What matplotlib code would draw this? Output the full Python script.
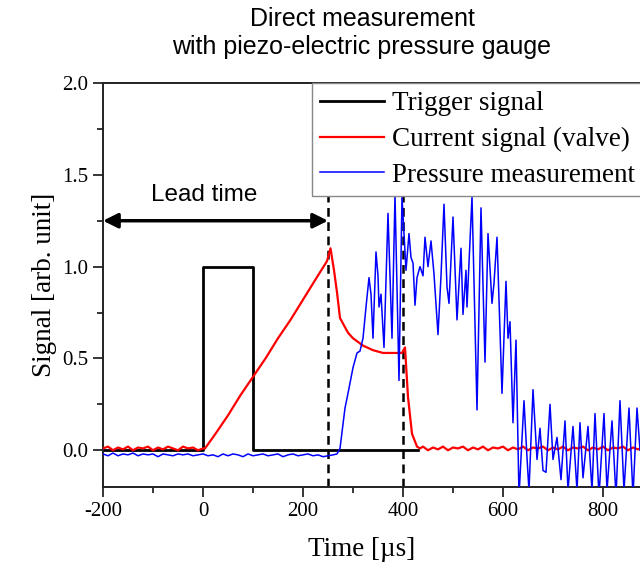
import matplotlib
matplotlib.use("Agg")
import matplotlib.pyplot as plt

# === DATA ===
trig_t = [-200, 0, 0, 100, 100, 430]
trig_v = [0, 0, 1, 1, 0, 0]

cur_t = [-200, -190, -180, -170, -160, -150, -140, -130, -120, -110, -100,
         -90, -80, -70, -60, -50, -40, -30, -20, -10, 0,
         4, 25, 50, 75, 100, 125, 150, 175, 200, 225, 248, 255, 262, 268,
         274, 280, 290, 300, 320, 340, 360, 380, 398, 404, 410, 418, 428, 434,
         440, 450, 460, 470, 480, 490, 500, 510, 520, 530, 540, 550, 560, 570,
         580, 590, 600, 610, 620, 630, 640, 650, 660, 670, 680, 690, 700, 710,
         720, 730, 740, 750, 760, 770, 780, 790, 800, 810, 820, 830, 840, 850,
         860, 870, 874]
cur_v = [0.01, 0.02, 0.0, 0.015, 0.005, 0.02, 0.0, 0.015, 0.01, 0.02, 0.0,
         0.015, 0.005, 0.02, 0.01, 0.0, 0.02, 0.01, 0.015, 0.0, 0.01,
         0.01, 0.09, 0.19, 0.30, 0.40, 0.50, 0.61, 0.71, 0.82, 0.93, 1.03, 1.10, 0.98, 0.86,
         0.72, 0.69, 0.64, 0.61, 0.57, 0.545, 0.53, 0.53, 0.53, 0.56, 0.29, 0.09, 0.02, 0.01,
         0.02, 0.0, 0.015, 0.005, 0.02, 0.0, 0.015, 0.01, 0.02, 0.0, 0.015, 0.005, 0.02, 0.0,
         0.015, 0.01, 0.02, 0.0, 0.015, 0.005, 0.02, 0.0, 0.015, 0.01, 0.02, 0.0, 0.015, 0.005,
         0.02, 0.0, 0.015, 0.01, 0.02, 0.0, 0.015, 0.005, 0.02, 0.0, 0.015, 0.01, 0.02, 0.0,
         0.015, 0.005, 0.01]

pres_t = [-200, -190, -180, -170, -160, -150, -140, -130, -120, -110, -100,
          -90, -80, -70, -60, -50, -40, -30, -20, -10, 0, 10, 20, 30, 40, 50,
          60, 70, 80, 90, 100, 110, 120, 130, 140, 150, 160, 170, 180, 190, 200,
          210, 220, 230, 240, 250, 260, 268,
          274, 284, 290, 300, 304, 308, 314, 320, 326, 332, 336, 340, 346, 350,
          352, 356, 362, 370, 378, 384, 392, 398, 406, 412, 416, 420, 424, 428,
          434, 440, 444, 450, 456, 462, 470, 476, 482, 488, 492, 500, 508, 516,
          520, 526, 528, 538, 548, 556, 564, 570, 578, 582, 588, 598, 606, 610,
          614, 620, 626, 632, 642, 648, 652, 660, 668, 674, 680, 686, 694, 700,
          708, 716, 724, 730, 740, 748, 754, 760, 770, 778, 784, 792, 802, 808,
          818, 826, 834, 842, 852, 860, 868, 874]
pres_v = [-0.02, -0.03, -0.015, -0.03, -0.02, -0.025, -0.015, -0.03, -0.02, -0.025, -0.02,
          -0.035, -0.02, -0.025, -0.03, -0.02, -0.025, -0.02, -0.03, -0.025, -0.02, -0.03,
          -0.025, -0.035, -0.02, -0.03, -0.02, -0.025, -0.035, -0.02, -0.03, -0.025, -0.02,
          -0.03, -0.025, -0.02, -0.035, -0.025, -0.02, -0.03, -0.025, -0.02, -0.03, -0.025,
          -0.035, -0.03, -0.025, -0.02,
          0.01, 0.23, 0.31, 0.45, 0.49, 0.53, 0.54, 0.61, 0.78, 0.94, 0.85, 0.61, 1.08, 0.95,
          0.78, 0.85, 0.56, 1.29, 0.61, 1.39, 0.38, 1.38, 0.98, 1.18, 1.05, 1.02, 0.79, 0.94,
          1.0, 0.95, 1.16, 1.0, 1.14, 0.96, 0.63, 0.95, 1.34, 0.89, 0.80, 1.27, 0.71, 1.10,
          0.74, 0.98, 0.78, 1.38, 0.22, 1.32, 0.48, 1.18, 0.80, 0.91, 1.16, 0.31, 0.92, 0.61,
          0.70, 0.15, 0.60, -0.25, 0.27, -0.04, -0.22, 0.33, -0.05, 0.12, -0.11, -0.12, 0.25, -0.05,
          0.07, -0.16, 0.16, -0.22, 0.13, -0.22, 0.15, -0.15, 0.13, -0.22, 0.2, -0.25, 0.2, -0.22,
          0.16, -0.25, 0.27, -0.22, 0.23, -0.25, 0.23, 0.0]

markers_t = [250, 400]   # dashed guide lines
lead_start, lead_end, lead_y = -200, 250, 1.25

# === STYLE ===
plt.rcParams['axes.unicode_minus'] = False
serif = 'Liberation Serif'
sans = 'Liberation Sans'

fig = plt.figure(figsize=(6.4, 5.65), dpi=100)
ax = fig.add_axes([103 / 640, 78 / 565, 537 / 640, 404 / 565])

ax.plot(trig_t, trig_v, color='black', lw=2.0, label='Trigger signal', zorder=2)
ax.plot(cur_t, cur_v, color='red', lw=1.6, label='Current signal (valve)', zorder=3)
ax.plot(pres_t, pres_v, color='blue', lw=1.1, label='Pressure measurement', zorder=4)

for t in markers_t:
    ax.axvline(t, color='black', lw=1.8, ls=(0, (3.5, 2.2)), zorder=1)

ax.annotate('', xy=(lead_start, lead_y), xytext=(lead_end, lead_y),
            arrowprops=dict(arrowstyle='<|-|>', lw=2.5, color='black',
                            mutation_scale=22, shrinkA=0, shrinkB=0))
ax.text(2, 1.39, 'Lead time', ha='center', va='center', fontsize=17.5, family=sans)

ax.set_xlim(-200, 874)
ax.set_ylim(-0.2, 2.0)
ax.set_xticks([-200, 0, 200, 400, 600, 800])
ax.set_xticks(range(-100, 900, 200), minor=True)
ax.set_yticks([0.0, 0.5, 1.0, 1.5, 2.0])
ax.set_yticks([0.25, 0.75, 1.25, 1.75], minor=True)
ax.tick_params(which='major', length=7, width=1.1, labelsize=15, direction='out')
ax.tick_params(which='minor', length=4, width=1.1, direction='out')
for lab in ax.get_xticklabels() + ax.get_yticklabels():
    lab.set_family(serif)

ax.spines['right'].set_visible(False)
for s in ['left', 'bottom', 'top']:
    ax.spines[s].set_linewidth(1.4)
    ax.spines[s].set_color('#222222')

ax.set_xlabel('Time [µs]', fontsize=19.5, family=serif, labelpad=6)
ax.xaxis.set_label_coords((362 - 103) / 537, -0.125)
ax.set_ylabel('Signal [arb. unit]', fontsize=19.5, family=serif, labelpad=4)

leg = ax.legend(loc='upper left', bbox_to_anchor=(0.389, 1.0), borderaxespad=0,
                prop={'family': serif, 'size': 19.5}, frameon=True, fancybox=False,
                edgecolor='#888888', framealpha=1, borderpad=0.3, labelspacing=0.4,
                handlelength=2.36, handletextpad=0.3)
leg.get_frame().set_linewidth(1.0)

fig.text(362 / 640, 1 - 33 / 565, 'Direct measurement\nwith piezo-electric pressure gauge',
         ha='center', va='center', fontsize=18, family=sans, linespacing=1.2)

fig.savefig('out.png', dpi=100)
